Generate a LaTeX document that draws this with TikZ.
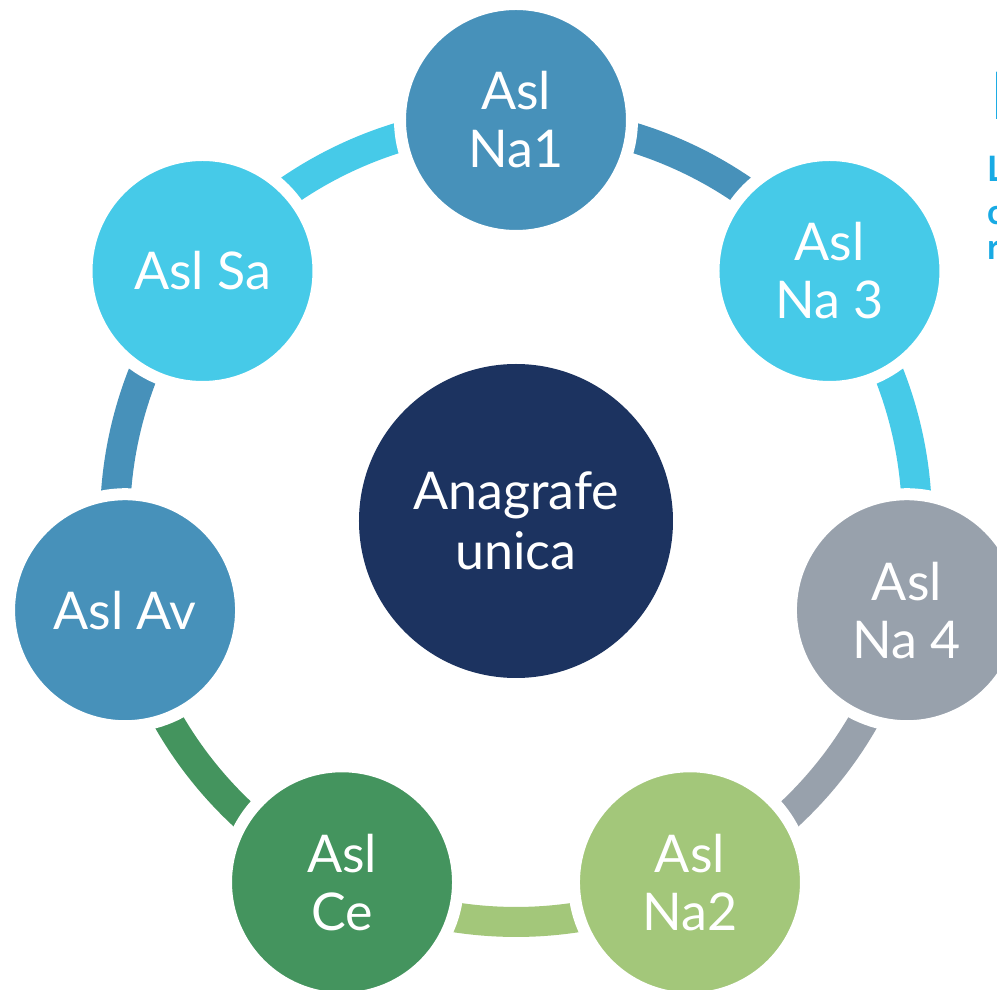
\documentclass[tikz,border=0pt]{standalone}
\usepackage{fontspec}
\setmainfont{Lato}
\definecolor{steel}{RGB}{71,145,186}
\definecolor{skyc}{RGB}{70,202,232}
\definecolor{greyc}{RGB}{152,161,172}
\definecolor{lgreen}{RGB}{163,199,122}
\definecolor{dgreen}{RGB}{68,148,94}
\definecolor{navy}{RGB}{28,51,96}
\definecolor{azure}{RGB}{24,170,228}
\tikzset{
  x=1pt,y=1pt,
  ringarc/.style={line width=30pt, line cap=butt},
  unit/.style={circle, draw=white, line width=12pt, minimum size=232pt, inner sep=0pt,
    text=white, align=center, font=\fontsize{52}{58}\selectfont},
  hub/.style={circle, fill=navy, minimum size=314pt, inner sep=0pt,
    text=white, align=center, font=\fontsize{52}{60}\selectfont},
  edge/.style={text=azure, inner sep=0pt, anchor=base west}
}
\begin{document}
\begin{tikzpicture}
\clip (-516,-469) rectangle (481,521);
\fill[white] (-516,-469) rectangle (481,521);
% ring arcs (colour of the preceding circle, clockwise)
\def\R{401}
\coordinate (p1) at (90:\R);
\coordinate (p2) at (38.571:\R);
\coordinate (p3) at (-12.857:\R);
\coordinate (p4) at (-64.286:\R);
\coordinate (p5) at (-115.714:\R);
\coordinate (p6) at (-167.143:\R);
\coordinate (p7) at (-218.571:\R);
\draw[ringarc, steel]  (p1) arc[start angle=90,       end angle=38.571,   radius=\R];
\draw[ringarc, skyc]   (p2) arc[start angle=38.571,   end angle=-12.857,  radius=\R];
\draw[ringarc, greyc]  (p3) arc[start angle=-12.857,  end angle=-64.286,  radius=\R];
\draw[ringarc, lgreen] (p4) arc[start angle=-64.286,  end angle=-115.714, radius=\R];
\draw[ringarc, dgreen] (p5) arc[start angle=-115.714, end angle=-167.143, radius=\R];
\draw[ringarc, steel]  (p6) arc[start angle=-167.143, end angle=-218.571, radius=\R];
\draw[ringarc, skyc]   (p7) arc[start angle=-218.571, end angle=-270,     radius=\R];
% circles
\node[unit, fill=steel]  (na1) at (p1) {Asl\\Na1};
\node[unit, fill=skyc]   (na3) at (p2) {Asl\\Na 3};
\node[unit, fill=greyc]  (na4) at (p3) {Asl\\Na 4};
\node[unit, fill=lgreen] (na2) at (p4) {Asl\\Na2};
\node[unit, fill=dgreen] (ce)  at (p5) {Asl\\Ce};
\node[unit, fill=steel]  (av)  at (p6) {Asl Av};
\node[unit, fill=skyc]   (sa)  at (p7) {Asl Sa};
\node[hub] (hub) at (0,0) {Anagrafe\\unica};
% cut-off text at the right edge
\node[edge, font=\fontsize{66}{66}\selectfont] (e0) at (474,401) {I};
\node[edge, font=\bfseries\fontsize{35}{35}\selectfont] (e1) at (471,339) {L};
\node[edge, font=\bfseries\fontsize{35}{35}\selectfont] (e2) at (471,296) {c};
\node[edge, font=\bfseries\fontsize{35}{35}\selectfont] (e3) at (471,261) {r};
\end{tikzpicture}
\end{document}
